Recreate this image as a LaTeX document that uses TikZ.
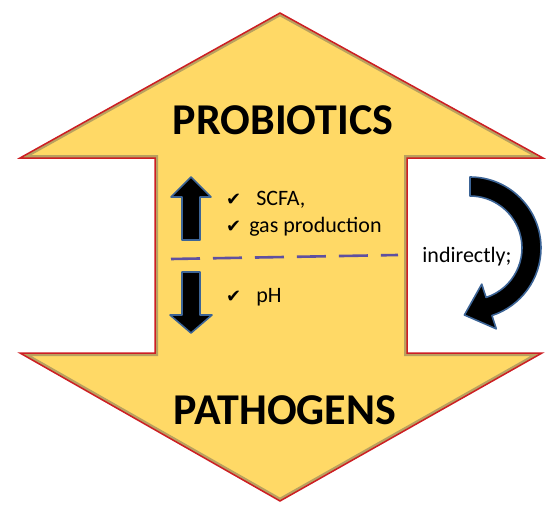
\documentclass[tikz,border=0pt]{standalone}
\usepackage{fontspec}
\setmainfont{Carlito}
\newfontfamily\symfont{DejaVu Sans}
\usepackage{tikz}
\usetikzlibrary{calc,positioning}
\definecolor{arrowgold}{RGB}{255,217,102}
\definecolor{arrowred}{RGB}{205,30,35}
\definecolor{bevel}{RGB}{185,160,95}
\definecolor{outlineblue}{RGB}{60,100,150}
\definecolor{divider}{RGB}{95,80,160}
\newcommand{\chk}{{\symfont\fontsize{18}{18}\selectfont\char"2714}}
\newcommand{\outline}{(tip) -- (hr) -- (sr) -- (br) -- (hbr) -- (bot) -- (hbl) -- (bl) -- (sl) -- (hl) -- cycle}

\begin{document}
\begin{tikzpicture}[x=1pt,y=-1pt,
  title/.style={font=\fontsize{44}{44}\selectfont\bfseries, text=black, inner sep=0pt},
  item/.style={anchor=west, font=\fontsize{22}{22}\selectfont, inner sep=0pt},
  blockarrow/.style={fill=black, draw=outlineblue, line width=1.6pt, line join=round}]
\useasboundingbox (0,0) rectangle (550,514);

% corners of the two-way arrow
\coordinate (tip) at (280,13);
\coordinate (hl) at (20,158);
\coordinate (sl) at (155,158);
\coordinate (hr) at (543,158);
\coordinate (sr) at (407,158);
\coordinate (bl) at (155,353);
\coordinate (hbl) at (20,353);
\coordinate (br) at (407,353);
\coordinate (hbr) at (542,353);
\coordinate (bot) at (280,501);

\begin{scope}
\clip \outline;
\fill[arrowgold] (0,0) rectangle (550,514);
\draw[bevel, line width=6pt] \outline;
\end{scope}
\draw[arrowred, line width=1.5pt] \outline;

\node[title] (pro) at (283,120) {PROBIOTICS};
\node[title] (pat) at (285,410) {PATHOGENS};

% small up / down arrows
\draw[blockarrow] (182,240) -- (182,197) -- (171,197) -- (191,177) -- (211,197) -- (200,197) -- (200,240) -- cycle;
\draw[blockarrow] (182,272) -- (182,315) -- (170,315) -- (191,333) -- (212,315) -- (200,315) -- (200,272) -- cycle;

\node[item] (scfa) at (226,200) {\chk\hspace{15pt}SCFA,};
\node[item] (gas) at (226,227) {\chk\hspace{8pt}gas production};
\node[item] (ph) at (226,297) {\chk\hspace{15pt}pH};

\coordinate (dashL) at (171,259);
\coordinate (dashR) at (398,255);
\draw[divider, line width=2.6pt, dash pattern=on 29pt off 13pt] (dashL) -- (dashR);

\node[font=\fontsize{22}{22}\selectfont, text=black, inner sep=0pt] (ind) at (467,257) {indirectly;};

% curved arrow on the right
\coordinate (c) at (470,248);
\draw[blockarrow] (470,177) arc[start angle=-90, end angle=72, radius=71]
  -- ($(c)+(72:85)$) -- ($(c)+(72:62)+(162:26)$) -- ($(c)+(72:38)$)
  -- ($(c)+(72:52)$) arc[start angle=72, end angle=-90, radius=52] -- cycle;
\end{tikzpicture}
\end{document}
